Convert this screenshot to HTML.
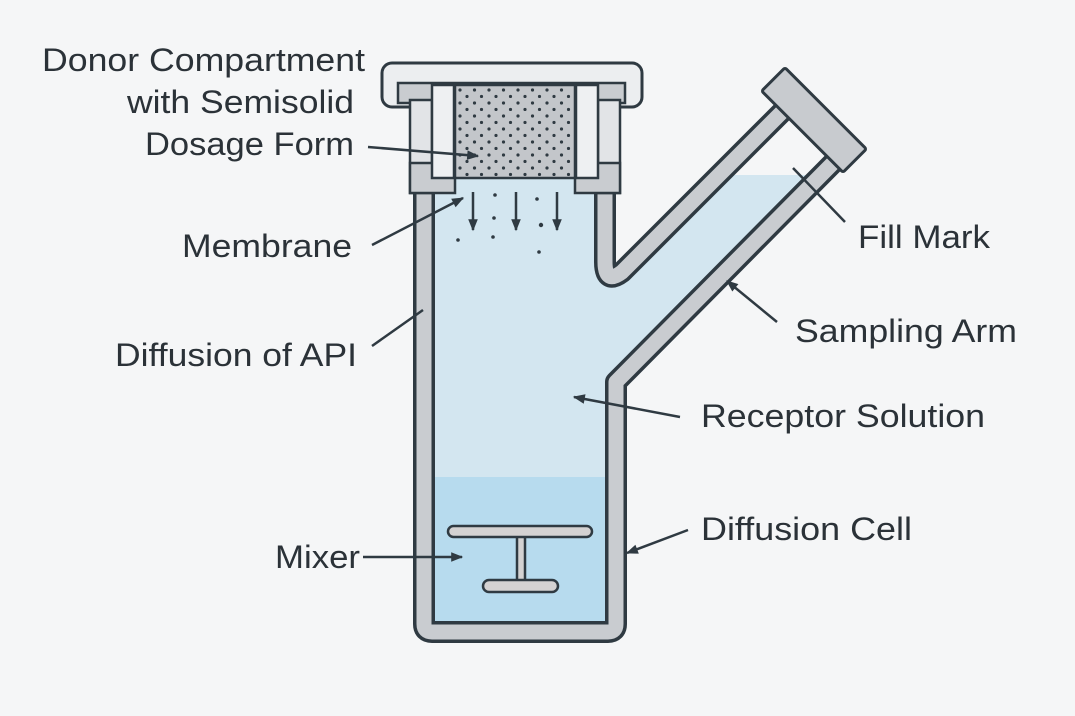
<!DOCTYPE html>
<html><head><meta charset="utf-8"><style>
html,body{margin:0;padding:0;background:#f5f6f7;}
svg{display:block;}
text{font-family:"Liberation Sans",sans-serif;font-size:32px;fill:#2b3238;}
</style></head><body>
<svg width="1075" height="716" viewBox="0 0 1075 716" xmlns="http://www.w3.org/2000/svg">
<defs>
<pattern id="dots" width="14.5" height="13" patternUnits="userSpaceOnUse" x="455" y="85">
<circle cx="5" cy="5" r="1.6" fill="#2f3a42"/>
<circle cx="12" cy="11.5" r="1.6" fill="#2f3a42"/>
</pattern>
<marker id="ah2" viewBox="0 0 10 10" refX="9" refY="5" markerWidth="16" markerHeight="12" orient="auto" markerUnits="userSpaceOnUse">
<path d="M0,1 L10,5 L0,9 Z" fill="#2f3a42"/>
</marker>
</defs>
<rect width="1075" height="716" fill="#f5f6f7"/>

<polygon points="424,178 605,178 605,262 622,272 719,175 821,175 616,382 616,632 424,632" fill="#d3e6f0"/>
<rect x="430" y="477" width="182" height="150" fill="#b7dbee"/>

<g fill="none" stroke-linejoin="round" stroke-linecap="butt">
<path d="M424,190 L424,624 Q424,632 432,632 L608,632 Q616,632 616,624 L616,382 L833.5,162.5" stroke="#2f3a42" stroke-width="22"/>
<path d="M424,190 L424,624 Q424,632 432,632 L608,632 Q616,632 616,624 L616,382 L833.5,162.5" stroke="#c9ccd0" stroke-width="15"/>
<path d="M605,190 L605,262 Q605,285 622,272 L782.5,111.5" stroke="#2f3a42" stroke-width="22"/>
<path d="M605,190 L605,262 Q605,285 622,272 L782.5,111.5" stroke="#c9ccd0" stroke-width="15"/>
</g>

<rect x="-57.5" y="-16.5" width="115" height="33" rx="2" transform="translate(814,120) rotate(45)" fill="#c8cbcf" stroke="#2f3a42" stroke-width="3"/>

<rect x="382" y="63" width="260" height="44" rx="10" fill="#eceef0" stroke="#2f3a42" stroke-width="3"/>
<rect x="398" y="83" width="227" height="20" fill="#c9ccd0" stroke="#2f3a42" stroke-width="2.5"/>
<rect x="410" y="100" width="22" height="93" fill="#e2e4e7" stroke="#2f3a42" stroke-width="2.5"/>
<rect x="598" y="100" width="22" height="93" fill="#e2e4e7" stroke="#2f3a42" stroke-width="2.5"/>
<rect x="410" y="163" width="45" height="30" fill="#c9ccd0" stroke="#2f3a42" stroke-width="2.5"/>
<rect x="575" y="163" width="45" height="30" fill="#c9ccd0" stroke="#2f3a42" stroke-width="2.5"/>
<rect x="432" y="85" width="22" height="93" fill="#eef0f2" stroke="#2f3a42" stroke-width="2.5"/>
<rect x="576" y="85" width="22" height="93" fill="#eef0f2" stroke="#2f3a42" stroke-width="2.5"/>
<rect x="455" y="85" width="120" height="93" fill="#c3c6ca"/>
<rect x="455" y="85" width="120" height="93" fill="url(#dots)" stroke="#2f3a42" stroke-width="2.5"/>

<g stroke="#2f3a42" stroke-width="2.5">
<line x1="473" y1="192" x2="473" y2="230" marker-end="url(#ah2)"/>
<line x1="516" y1="192" x2="516" y2="230" marker-end="url(#ah2)"/>
<line x1="557" y1="192" x2="557" y2="230" marker-end="url(#ah2)"/>
</g>
<g fill="#2f3a42">
<circle cx="495" cy="195" r="1.8"/><circle cx="537" cy="199" r="1.8"/>
<circle cx="494" cy="218" r="1.8"/><circle cx="541" cy="225" r="2.2"/>
<circle cx="458" cy="240" r="1.8"/><circle cx="493" cy="237" r="1.8"/>
<circle cx="539" cy="252" r="1.8"/>
</g>

<rect x="517" y="535" width="8" height="46" fill="#d4d2d2" stroke="#2f3a42" stroke-width="2.5"/>
<rect x="448" y="526" width="144" height="11" rx="5.5" fill="#d4d2d2" stroke="#2f3a42" stroke-width="2.5"/>
<rect x="483" y="580" width="75" height="12" rx="6" fill="#d4d2d2" stroke="#2f3a42" stroke-width="2.5"/>

<g stroke="#2f3a42" stroke-width="2.5" fill="none">
<line x1="368" y1="147" x2="478" y2="156" marker-end="url(#ah2)"/>
<line x1="372" y1="245" x2="463" y2="198" marker-end="url(#ah2)"/>
<line x1="372" y1="346" x2="423" y2="310"/>
<line x1="363" y1="557" x2="462" y2="557" marker-end="url(#ah2)"/>
<line x1="680" y1="417" x2="574" y2="397" marker-end="url(#ah2)"/>
<line x1="688" y1="530" x2="627" y2="553" marker-end="url(#ah2)"/>
<line x1="777" y1="322" x2="727" y2="281" marker-end="url(#ah2)"/>
<line x1="845" y1="222" x2="793" y2="168"/>
</g>

<g lengthAdjust="spacingAndGlyphs">
<text x="42" y="71" textLength="323" lengthAdjust="spacingAndGlyphs">Donor Compartment</text>
<text x="127" y="113" textLength="227" lengthAdjust="spacingAndGlyphs">with Semisolid</text>
<text x="145" y="155" textLength="209" lengthAdjust="spacingAndGlyphs">Dosage Form</text>
<text x="182" y="257" textLength="170" lengthAdjust="spacingAndGlyphs">Membrane</text>
<text x="115" y="366" textLength="242" lengthAdjust="spacingAndGlyphs">Diffusion of API</text>
<text x="275" y="568" textLength="85" lengthAdjust="spacingAndGlyphs">Mixer</text>
<text x="858" y="248" textLength="132" lengthAdjust="spacingAndGlyphs">Fill Mark</text>
<text x="795" y="342" textLength="222" lengthAdjust="spacingAndGlyphs">Sampling Arm</text>
<text x="701" y="427" textLength="284" lengthAdjust="spacingAndGlyphs">Receptor Solution</text>
<text x="701" y="540" textLength="211" lengthAdjust="spacingAndGlyphs">Diffusion Cell</text>
</g>
</svg>
</body></html>
